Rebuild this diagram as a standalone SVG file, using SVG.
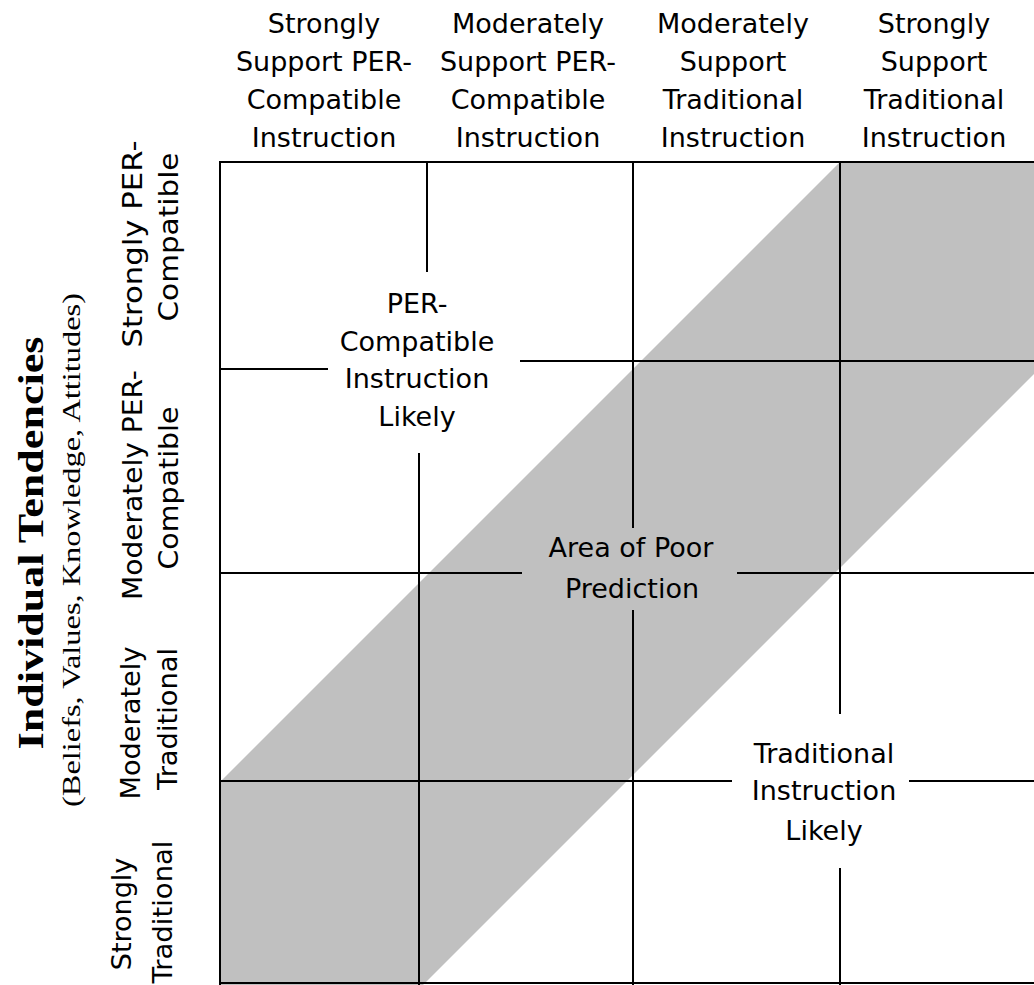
<svg xmlns="http://www.w3.org/2000/svg" width="1034" height="985" viewBox="0 0 1034 985">
<style>
.lbl{font-family:"DejaVu Sans","Liberation Sans",sans-serif;font-size:27px;fill:#000;text-anchor:middle}
.ttl{font-family:"Liberation Serif","Times New Roman",serif;font-weight:bold;font-size:36px;fill:#000;text-anchor:middle}
.sub{font-family:"Liberation Serif","Times New Roman",serif;font-size:26px;fill:#000;text-anchor:middle}
.ln{stroke:#000;stroke-width:2;fill:none}
</style>
<rect x="0" y="0" width="1034" height="985" fill="#fff"/>
<g id="band">
<polygon points="840,162 1034,162 1034,374 423,985 220,985 220,782" fill="#c0c0c0"/>
</g>
<g id="connectors">
<line class="ln" x1="220" y1="162" x2="1034" y2="162"/>
<line class="ln" x1="220" y1="161" x2="220" y2="985"/>
<line class="ln" x1="220" y1="983" x2="1034" y2="983"/>
<line class="ln" x1="427" y1="162" x2="427" y2="272"/>
<line class="ln" x1="419" y1="453" x2="419" y2="985"/>
<line class="ln" x1="633" y1="162" x2="633" y2="528"/>
<line class="ln" x1="633" y1="610" x2="633" y2="985"/>
<line class="ln" x1="840" y1="162" x2="840" y2="714"/>
<line class="ln" x1="840" y1="868" x2="840" y2="985"/>
<line class="ln" x1="220" y1="369" x2="328" y2="369"/>
<line class="ln" x1="520" y1="361" x2="1034" y2="361"/>
<line class="ln" x1="220" y1="573" x2="522" y2="573"/>
<line class="ln" x1="737" y1="573" x2="1034" y2="573"/>
<line class="ln" x1="220" y1="781" x2="732" y2="781"/>
<line class="ln" x1="909" y1="781" x2="1034" y2="781"/>
</g>
<g id="col1">
<text class="lbl" x="324" y="33">Strongly</text>
<text class="lbl" x="324" y="71">Support PER-</text>
<text class="lbl" x="324" y="109">Compatible</text>
<text class="lbl" x="324" y="147">Instruction</text>
</g>
<g id="col2">
<text class="lbl" x="528" y="33">Moderately</text>
<text class="lbl" x="528" y="71">Support PER-</text>
<text class="lbl" x="528" y="109">Compatible</text>
<text class="lbl" x="528" y="147">Instruction</text>
</g>
<g id="col3">
<text class="lbl" x="733" y="33">Moderately</text>
<text class="lbl" x="733" y="71">Support</text>
<text class="lbl" x="733" y="109">Traditional</text>
<text class="lbl" x="733" y="147">Instruction</text>
</g>
<g id="col4">
<text class="lbl" x="934" y="33">Strongly</text>
<text class="lbl" x="934" y="71">Support</text>
<text class="lbl" x="934" y="109">Traditional</text>
<text class="lbl" x="934" y="147">Instruction</text>
</g>
<g id="row1">
<text class="lbl" transform="translate(142,244) rotate(-90)" textLength="207" lengthAdjust="spacingAndGlyphs">Strongly  PER-</text>
<text class="lbl" transform="translate(178,237) rotate(-90)" textLength="169" lengthAdjust="spacingAndGlyphs">Compatible</text>
</g>
<g id="row2">
<text class="lbl" transform="translate(142,485) rotate(-90)" textLength="230" lengthAdjust="spacingAndGlyphs">Moderately PER-</text>
<text class="lbl" transform="translate(178,488) rotate(-90)" textLength="163" lengthAdjust="spacingAndGlyphs">Compatible</text>
</g>
<g id="row3">
<text class="lbl" transform="translate(140,723) rotate(-90)" textLength="153" lengthAdjust="spacingAndGlyphs">Moderately</text>
<text class="lbl" transform="translate(177,719) rotate(-90)" textLength="142" lengthAdjust="spacingAndGlyphs">Traditional</text>
</g>
<g id="row4">
<text class="lbl" transform="translate(131,914) rotate(-90)">Strongly</text>
<text class="lbl" transform="translate(172,912) rotate(-90)" textLength="143" lengthAdjust="spacingAndGlyphs">Traditional</text>
</g>
<g id="axis-title">
<text class="ttl" transform="translate(43,543) rotate(-90)" textLength="413" lengthAdjust="spacingAndGlyphs">Individual Tendencies</text>
<text class="sub" transform="translate(80,550) rotate(-90)" textLength="514" lengthAdjust="spacingAndGlyphs">(Beliefs, Values, Knowledge, Attitudes)</text>
</g>
<g id="per-likely">
<text class="lbl" x="417" y="313">PER-</text>
<text class="lbl" x="417" y="351">Compatible</text>
<text class="lbl" x="417" y="388">Instruction</text>
<text class="lbl" x="417" y="426">Likely</text>
</g>
<g id="poor-prediction">
<text class="lbl" x="631" y="557">Area of Poor</text>
<text class="lbl" x="632" y="598">Prediction</text>
</g>
<g id="trad-likely">
<text class="lbl" x="824" y="763">Traditional</text>
<text class="lbl" x="824" y="800">Instruction</text>
<text class="lbl" x="824" y="840">Likely</text>
</g>
</svg>
